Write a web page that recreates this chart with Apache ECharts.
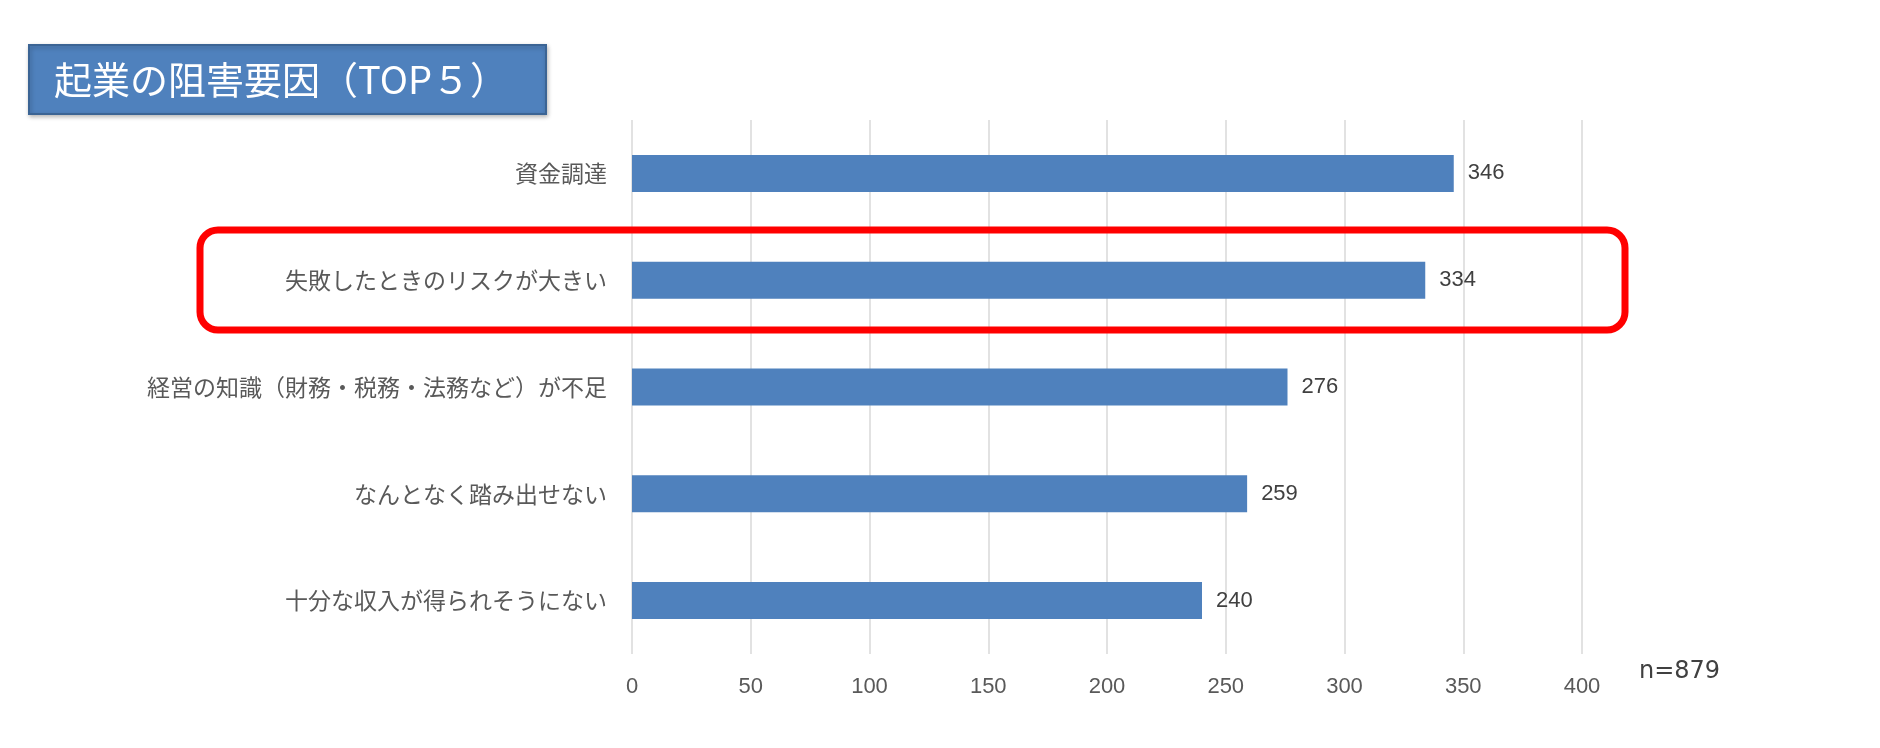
<!DOCTYPE html>
<html>
<head>
<meta charset="utf-8">
<title>起業の阻害要因</title>
<script src="https://cdn.jsdelivr.net/npm/echarts@6/dist/echarts.min.js"></script>
<style>
  html, body { margin: 0; padding: 0; background: #fff; }
  #chart { width: 1880px; height: 748px; }
</style>
</head>
<body>
<div id="chart"></div>
<script>
// 項目（上から順）
var categories = [
    '資金調達',
    '失敗したときのリスクが大きい',
    '経営の知識（財務・税務・法務など）が不足',
    'なんとなく踏み出せない',
    '十分な収入が得られそうにない'
];
// 回答数
var counts = [346, 334, 276, 259, 240];
// 横軸
var axisMin = 0;
var axisMax = 400;
var axisStep = 50;
var sampleNote = 'n=879';
var titleText = '起業の阻害要因（TOP５）';

var jpFont = '"Noto Sans CJK JP", "Noto Sans", sans-serif';
var numFont = '"Liberation Sans", "Noto Sans", sans-serif';

var myChart = echarts.init(document.getElementById('chart'));

var option = {
    animation: false,
    backgroundColor: '#ffffff',
    grid: {
        left: 632,
        right: 298,
        top: 120,
        bottom: 94
    },
    xAxis: {
        type: 'value',
        min: axisMin,
        max: axisMax,
        interval: axisStep,
        axisLine: { show: false },
        axisTick: { show: false },
        splitLine: { lineStyle: { color: '#d9d9d9', width: 1.5 } },
        axisLabel: {
            margin: 22,
            fontSize: 22,
            color: '#595959',
            fontFamily: numFont
        }
    },
    yAxis: {
        type: 'category',
        inverse: true,
        data: categories,
        axisLine: { show: false },
        axisTick: { show: false },
        axisLabel: {
            margin: 25,
            fontSize: 23,
            color: '#595959',
            fontFamily: jpFont
        }
    },
    series: [
        {
            name: '回答数',
            type: 'bar',
            barWidth: 37,
            itemStyle: { color: '#4f81bd' },
            label: {
                show: true,
                position: 'right',
                distance: 14,
                fontSize: 22,
                color: '#404040',
                fontFamily: numFont
            },
            data: counts
        }
    ],
    graphic: [
        // タイトルの箱
        {
            type: 'group',
            left: 28,
            top: 44,
            children: [
                {
                    type: 'rect',
                    shape: { x: 0, y: 0, width: 517, height: 69 },
                    style: {
                        fill: '#4f81bd',
                        stroke: '#3b6494',
                        lineWidth: 2,
                        shadowBlur: 4,
                        shadowOffsetX: 1,
                        shadowOffsetY: 2,
                        shadowColor: 'rgba(0,0,0,0.25)'
                    }
                },
                {
                    type: 'text',
                    x: 25,
                    y: 35,
                    style: {
                        text: titleText,
                        fill: '#ffffff',
                        fontSize: 38,
                        fontFamily: jpFont,
                        verticalAlign: 'middle'
                    }
                }
            ]
        },
        // 強調の赤枠
        {
            type: 'rect',
            shape: { x: 200, y: 230, width: 1425, height: 100, r: 18 },
            style: {
                fill: 'none',
                stroke: '#ff0000',
                lineWidth: 7
            },
            z: 100
        },
        {
            type: 'text',
            x: 1639,
            y: 672,
            style: {
                text: sampleNote,
                fill: '#404040',
                fontSize: 24,
                fontFamily: '"DejaVu Sans", sans-serif',
                verticalAlign: 'middle'
            }
        }
    ]
};

myChart.setOption(option);
</script>
</body>
</html>
